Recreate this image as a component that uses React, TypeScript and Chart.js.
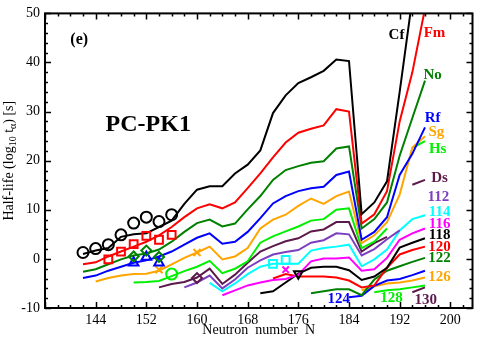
import React, { useEffect, useRef } from "react";
import { Chart, registerables } from "chart.js";

Chart.register(...registerables);

// ---------- data ----------
const neutronN = [142, 144, 146, 148, 150, 152, 154, 156, 158, 160, 162, 164, 166, 168, 170, 172, 174, 176, 178, 180, 182, 184, 186, 188, 190, 192, 194, 196];

const cfLogT = [1.0, 1.7, 2.2, 4.5, 5.0, 5.2, 6.5, 7.8, 11.2, 14.1, 14.8, 14.8, 17.4, 19.2, 22.1, 29.7, 33.3, 35.8, 37.0, 38.3, 40.6, 40.3, 9.1, 11.5, 15.8, 34.0, 53.0, null];
const fmLogT = [-1.1, -0.7, 0.5, 1.5, 2.5, 3.5, 4.8, 6.5, 8.5, 10.3, 11.1, 10.3, 11.5, 14.4, 17.4, 20.7, 23.7, 25.7, 26.5, 27.2, 30.5, 30.0, 7.2, 9.1, 13.8, 28.0, 38.0, 51.0];
const noLogT = [-2.6, -2.1, -1.1, -0.1, 0.7, 1.1, 1.9, 3.5, 5.5, 7.3, 8.0, 6.6, 7.2, 10.1, 12.8, 16.1, 18.1, 18.9, 19.6, 19.9, 22.5, 22.9, 6.2, 8.1, 11.5, 21.0, 28.7, 36.3];
const rfLogT = [-3.9, -3.4, -2.4, -1.6, -0.8, -0.3, 0.5, 1.5, 2.9, 4.3, 5.2, 3.1, 3.5, 5.5, 8.3, 11.3, 12.8, 13.8, 14.4, 14.7, 17.1, 17.8, 3.9, 5.5, 8.5, 17.1, 21.4, 26.8];
const sgLogT = [null, -4.6, -3.9, -3.4, -3.1, -3.0, -2.4, -1.1, 0.2, 1.3, 2.5, -0.1, 0.5, 2.2, 6.2, 8.0, 9.0, 10.8, 12.3, 11.2, 12.8, 13.7, 3.2, 4.8, 7.5, 13.1, 22.7, 25.0];
const hsLogT = [null, null, null, null, -4.8, -4.7, -4.5, -3.5, -2.5, -1.6, -0.4, -2.9, -2.0, -0.5, 3.3, 4.6, 5.6, 6.6, 7.8, 8.1, 10.0, 10.3, 2.2, 3.5, 6.2, null, 22.6, 24.0];
const dsLogT = [null, null, null, null, null, null, -5.8, -5.1, -4.7, -3.8, -2.0, -5.1, -3.2, -0.8, 1.5, 2.6, 3.6, 4.2, 5.6, 6.0, 7.5, 7.5, 1.5, 3.2, 4.5, null, 15.1, 16.1];
const z112LogT = [null, null, null, null, null, null, null, null, -5.8, -4.8, -3.4, -6.0, -4.2, -1.8, -0.3, 0.9, 1.4, 1.8, 3.3, 3.8, 5.2, 5.0, 0.7, 2.0, 4.0, 5.8, null, null];
const z114LogT = [null, null, null, null, null, null, null, null, null, null, -4.9, -6.6, -5.0, -3.1, -1.6, -1.0, -1.0, -1.0, 1.7, 2.2, 2.5, 2.9, -1.5, -0.1, 1.9, 5.8, 8.1, 8.9];
const z116LogT = [null, null, null, null, null, null, null, null, null, null, null, -7.4, -6.4, -5.4, -4.8, -4.3, -4.1, -3.2, -0.5, 0.1, 0.1, 0.3, -2.4, -2.1, 0.2, 3.9, 5.2, 6.2];
const z118LogT = [null, null, null, null, null, null, null, null, null, null, null, null, null, null, -7.0, -6.6, -4.8, -3.0, -1.8, -1.6, -1.6, -2.3, -4.3, -3.6, -1.8, 2.3, 3.3, 4.2];
const z120LogT = [null, null, null, null, null, null, null, null, null, null, null, null, null, null, null, -4.0, -3.1, -3.6, -3.6, -3.6, -3.8, -4.4, -5.8, -5.4, -1.8, 0.9, 1.8, 2.5];
const z122LogT = [null, null, null, null, null, null, null, null, null, null, null, null, null, null, null, null, null, null, -7.0, -6.6, -6.2, -6.2, -7.4, -4.2, -2.4, -1.5, -0.6, 0.2];
const z124LogT = [null, null, null, null, null, null, null, null, null, null, null, null, null, null, null, null, null, null, null, null, null, -7.8, -7.5, -5.5, -4.4, -4.1, -3.3, -2.4];
const z126LogT = [null, null, null, null, null, null, null, null, null, null, null, null, null, null, null, null, null, null, null, null, null, null, -6.4, -5.6, -5.0, -4.8, -4.4, -3.8];
const z128LogT = [null, null, null, null, null, null, null, null, null, null, null, null, null, null, null, null, null, null, null, null, null, null, null, -6.8, -6.4, -6.2, -5.8, -5.4];
const z130LogT = [null, null, null, null, null, null, null, null, null, null, null, null, null, null, null, null, null, null, null, null, null, null, null, null, null, null, -6.8, -5.8];

// experimental values
const cfExpN = [142, 144, 146, 148, 150, 152, 154, 156];
const cfExpT = [1.3, 2.1, 2.9, 4.9, 7.3, 8.5, 7.6, 9.0];
const fmExpN = [146, 148, 150, 152, 154, 156];
const fmExpT = [-0.1, 1.5, 3.0, 4.7, 3.9, 4.9];
const noExpN = [150, 152, 154];
const noExpT = [0.5, 1.7, 0.4];
const rfExpN = [150, 152, 154];
const rfExpT = [-0.8, 0.4, -0.8];
const sgExpN = [154, 160];
const sgExpT = [-2.2, 1.3];
const hsExpN = [156];
const hsExpT = [-3.1];
const dsExpN = [160];
const dsExpT = [-3.9];
const fl114ExpN = [172, 174];
const fl114ExpT = [-1.0, -0.2];
const lv116ExpN = [174];
const lv116ExpT = [-2.2];
const og118ExpN = [176];
const og118ExpT = [-3.0];

// axis ticks
const xTickValues = [144, 152, 160, 168, 176, 184, 192, 200];
const yTickValues = [-10, 0, 10, 20, 30, 40, 50];

// curve labels (text, N, logT)
const labelText = ["Cf", "Fm", "No", "Rf", "Sg", "Hs", "Ds", "112", "114", "116", "118", "120", "122", "126", "124", "128", "130"];
const labelN = [191.5, 197.5, 197.2, 197.2, 197.8, 198.0, 198.3, 198.1, 198.3, 198.3, 198.3, 198.3, 198.3, 198.3, 182.4, 190.7, 196.1];
const labelT = [45.6, 45.9, 37.5, 28.7, 25.8, 22.4, 16.4, 12.6, 9.5, 7.0, 4.8, 2.5, 0.1, -3.8, -8.1, -7.9, -8.4];

// ---------- styles ----------
const BLACK = "#000000";
const RED = "#ff0000";
const DGREEN = "#008000";
const BLUE = "#0000ff";
const ORANGE = "#ffa500";
const LGREEN = "#00f000";
const MAROON = "#5c1a4a";
const PURPLE = "#7b3fbf";
const CYAN = "#00ffff";
const MAGENTA = "#ff00ff";

const labelColor = [BLACK, RED, DGREEN, BLUE, ORANGE, LGREEN, MAROON, PURPLE, CYAN, MAGENTA, BLACK, RED, DGREEN, ORANGE, BLUE, LGREEN, MAROON];

const FONT = "'Liberation Serif', 'Times New Roman', serif";

const lineSeries: [number[] | (number | null)[], string][] = [
  [cfLogT, BLACK],
  [fmLogT, RED],
  [noLogT, DGREEN],
  [rfLogT, BLUE],
  [sgLogT, ORANGE],
  [hsLogT, LGREEN],
  [dsLogT, MAROON],
  [z112LogT, PURPLE],
  [z114LogT, CYAN],
  [z116LogT, MAGENTA],
  [z118LogT, BLACK],
  [z120LogT, RED],
  [z122LogT, DGREEN],
  [z124LogT, BLUE],
  [z126LogT, ORANGE],
  [z128LogT, LGREEN],
  [z130LogT, MAROON],
];

type Marker = { n: number[]; t: number[]; color: string; style: string; r: number; rot?: number };
const markers: Marker[] = [
  { n: cfExpN, t: cfExpT, color: BLACK, style: "circle", r: 5.5 },
  { n: fmExpN, t: fmExpT, color: RED, style: "rect", r: 5.5 },
  { n: noExpN, t: noExpT, color: DGREEN, style: "rectRot", r: 5 },
  { n: rfExpN, t: rfExpT, color: BLUE, style: "triangle", r: 5.5 },
  { n: sgExpN, t: sgExpT, color: ORANGE, style: "crossRot", r: 5 },
  { n: hsExpN, t: hsExpT, color: LGREEN, style: "circle", r: 5.5 },
  { n: dsExpN, t: dsExpT, color: MAROON, style: "rectRot", r: 5 },
  { n: fl114ExpN, t: fl114ExpT, color: CYAN, style: "rect", r: 5.5 },
  { n: lv116ExpN, t: lv116ExpT, color: MAGENTA, style: "crossRot", r: 4.5 },
  { n: og118ExpN, t: og118ExpT, color: BLACK, style: "triangle", r: 5, rot: 180 },
];

const decorPlugin = {
  id: "decor",
  afterDraw(chart: any) {
    const { ctx, chartArea: a, scales } = chart;
    const x = scales.x;
    const y = scales.y;
    ctx.save();
    // frame
    ctx.strokeStyle = "#000";
    ctx.lineWidth = 2;
    ctx.strokeRect(a.left, a.top, a.right - a.left, a.bottom - a.top);
    // inward ticks
    ctx.lineWidth = 1.5;
    ctx.beginPath();
    for (let v = 136; v <= 203; v += 2) {
      const px = Math.round(x.getPixelForValue(v)) + 0.5;
      const len = v % 8 === 0 ? 6 : 3;
      ctx.moveTo(px, a.bottom);
      ctx.lineTo(px, a.bottom - len);
      ctx.moveTo(px, a.top);
      ctx.lineTo(px, a.top + len);
    }
    for (let v = -10; v <= 50; v += 2) {
      const py = Math.round(y.getPixelForValue(v)) + 0.5;
      const len = v % 10 === 0 ? 6 : 3;
      ctx.moveTo(a.left, py);
      ctx.lineTo(a.left + len, py);
      ctx.moveTo(a.right, py);
      ctx.lineTo(a.right - len, py);
    }
    ctx.stroke();

    // curve labels
    ctx.textAlign = "center";
    ctx.textBaseline = "middle";
    ctx.font = `bold 15px ${FONT}`;
    for (let i = 0; i < labelText.length; i++) {
      ctx.fillStyle = labelColor[i];
      ctx.fillText(labelText[i], x.getPixelForValue(labelN[i]), y.getPixelForValue(labelT[i]));
    }
    // panel tag and model name
    ctx.fillStyle = "#000";
    ctx.font = `bold 16px ${FONT}`;
    ctx.fillText("(e)", x.getPixelForValue(141.4), y.getPixelForValue(44.6));
    ctx.font = `bold 24px ${FONT}`;
    ctx.fillText("PC-PK1", x.getPixelForValue(152.3), y.getPixelForValue(27.3));

    // y-axis title with subscripts
    const parts: [string, boolean][] = [["Half-life (log", false], ["10", true], [" t", false], ["α", true], [") [s]", false]];
    const mainFont = `14px ${FONT}`;
    const subFont = `10px ${FONT}`;
    let total = 0;
    for (const [t, sub] of parts) {
      ctx.font = sub ? subFont : mainFont;
      total += ctx.measureText(t).width;
    }
    ctx.translate(9, (a.top + a.bottom) / 2);
    ctx.rotate(-Math.PI / 2);
    ctx.textAlign = "left";
    ctx.textBaseline = "middle";
    let cx = -total / 2;
    for (const [t, sub] of parts) {
      ctx.font = sub ? subFont : mainFont;
      ctx.fillText(t, cx, sub ? 4 : 0);
      cx += ctx.measureText(t).width;
    }
    ctx.restore();
  },
};

export default function App() {
  const ref = useRef<HTMLCanvasElement | null>(null);

  useEffect(() => {
    if (!ref.current) return;
    const datasets: any[] = [];
    for (const m of markers) {
      datasets.push({
        data: m.n.map((n, i) => ({ x: n, y: m.t[i] })),
        showLine: false,
        pointStyle: m.style,
        pointRadius: m.r,
        pointRotation: m.rot || 0,
        pointBorderColor: m.color,
        pointBackgroundColor: "rgba(0,0,0,0)",
        pointBorderWidth: 2,
        borderColor: m.color,
      });
    }
    for (const [vals, color] of lineSeries) {
      datasets.push({
        data: neutronN.map((n, i) => ({ x: n, y: vals[i] })),
        showLine: true,
        spanGaps: false,
        borderColor: color,
        borderWidth: 2,
        pointRadius: 0,
        tension: 0,
      });
    }

    const chart = new Chart(ref.current, {
      type: "scatter",
      data: { datasets },
      options: {
        animation: false,
        responsive: false,
        devicePixelRatio: 1,
        layout: { padding: { top: 6, right: 7, left: 0, bottom: 0 } },
        plugins: { legend: { display: false }, tooltip: { enabled: false } },
        scales: {
          x: {
            type: "linear",
            position: "bottom",
            min: 136,
            max: 203.5,
            grid: { display: false, drawTicks: false },
            border: { display: false },
            ticks: { font: { family: FONT, size: 14 }, color: "#000", padding: 4, maxRotation: 0, autoSkip: false },
            afterBuildTicks: (s: any) => {
              s.ticks = xTickValues.map((v) => ({ value: v }));
            },
            afterFit: (s: any) => {
              s.height = 32;
            },
            title: {
              display: true,
              text: "Neutron  number  N",
              font: { family: FONT, size: 14 },
              color: "#000",
              padding: { top: 0, bottom: 1 },
            },
          },
          y: {
            type: "linear",
            min: -10,
            max: 50,
            grid: { display: false, drawTicks: false },
            border: { display: false },
            ticks: { font: { family: FONT, size: 14 }, color: "#000", padding: 5, autoSkip: false },
            afterBuildTicks: (s: any) => {
              s.ticks = yTickValues.map((v) => ({ value: v }));
            },
            afterFit: (s: any) => {
              s.width = 45;
            },
          },
        },
      },
      plugins: [decorPlugin],
    } as any);
    return () => chart.destroy();
  }, []);

  return (
    <div style={{ position: "fixed", left: 0, top: 0, width: 480, height: 340, background: "#fff" }}>
      <canvas ref={ref} width={480} height={340} />
    </div>
  );
}
